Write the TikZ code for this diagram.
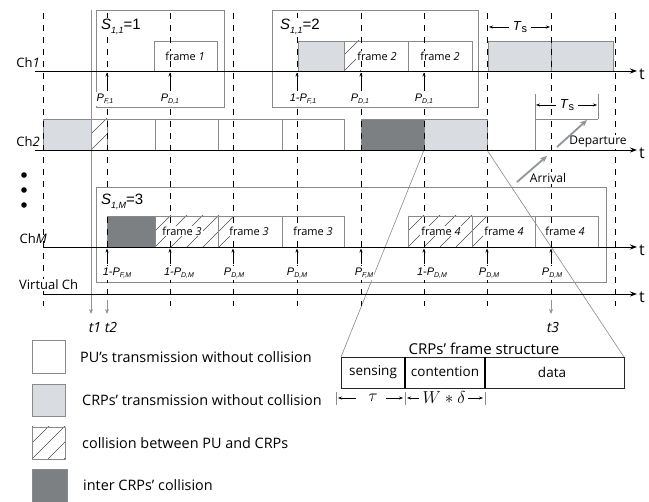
\documentclass[tikz,border=0pt]{standalone}
\usepackage{fontspec}
\setmainfont{Open Sans}
\newfontfamily\arialf{Liberation Sans}
\usetikzlibrary{arrows.meta}
\definecolor{lgrey}{HTML}{D9DCE0}
\definecolor{dgrey}{HTML}{7D8083}
\definecolor{boxline}{HTML}{8A8A8A}
\definecolor{tline}{HTML}{8F959A}
\newcommand{\fsz}[1]{\fontsize{#1}{#1}\selectfont}
\newcommand{\PP}[1]{P\raisebox{-0.45ex}{\fsz{7}#1}}
\newcommand{\plab}[1]{{\arialf\itshape\fsz{11}#1}}
\newcommand{\slab}[2]{{\arialf\fsz{15}\textit{S}\raisebox{-0.45ex}{\fsz{9}\itshape #1}=#2}}
\newcommand{\hatchbox}[4]{%
  \begin{scope}
    \clip (#1,#2) rectangle (#3,#4);
    \foreach \k in {-48,-32,...,96} \draw[hatchline] ({#1+\k},#4) -- ++(48,-48);
  \end{scope}}
\begin{document}
\begin{tikzpicture}[x=1pt,y=-1pt,
  dashline/.style={draw=black,line width=0.7pt,dash pattern=on 6pt off 6pt},
  sbox/.style={draw=boxline,line width=0.8pt},
  fbox/.style={draw=boxline,line width=0.8pt},
  axis/.style={line width=0.9pt,-{Stealth[length=7pt,width=5pt]}},
  uparr/.style={line width=0.7pt,-{Stealth[length=4pt,width=3pt]}},
  garr/.style={draw=tline,line width=1.8pt,-{Stealth[length=7pt,width=6pt]}},
  tarr/.style={draw=tline,line width=0.8pt,-{Stealth[length=5pt,width=4pt]}},
  hatchline/.style={draw=black!70,line width=0.5pt},
  thin/.style={draw=boxline,line width=0.6pt},
  lbl/.style={inner sep=0pt},
  plb/.style={inner sep=1pt,fill=white},
  frm/.style={inner sep=1.2pt,fill=white,font=\fsz{11}},
  tlab/.style={inner sep=0pt,font=\fsz{16}},
  leg/.style={inner sep=0pt,anchor=west,font=\fsz{14.4}}]
\useasboundingbox (0,0) rectangle (649,502);

% ---------- S boxes ----------
\draw[sbox] (96,10) rectangle (224,107);
\draw[sbox] (272,10) rectangle (478,107);
\draw[sbox] (96,187) rectangle (606,282);

% ---------- Ch1 blocks ----------
\draw[fbox] (154,41) rectangle (217,71);
\filldraw[fbox,fill=lgrey] (298,41) rectangle (344,71);
\hatchbox{344}{41}{361}{71}
\draw[fbox] (344,41) rectangle (408,71);
\draw[fbox] (408,41) rectangle (472,71);
\filldraw[fbox,fill=lgrey] (488,41) rectangle (551,71);
\filldraw[fbox,fill=lgrey] (551,41) rectangle (613,71);

% ---------- Ch2 blocks ----------
\filldraw[fbox,fill=lgrey] (43,119) rectangle (91,150);
\hatchbox{91}{119}{107}{150}
\draw[fbox] (91,119) rectangle (107,150);
\draw[fbox] (107,119) rectangle (155,150);
\draw[fbox] (155,119) rectangle (218,150);
\draw[fbox] (218,119) rectangle (282,150);
\draw[fbox] (282,119) rectangle (344,150);
\filldraw[fbox,fill=dgrey] (361,119) rectangle (424,150);
\filldraw[fbox,fill=lgrey] (424,119) rectangle (487,150);
% Ts bracket on Ch2
\draw[thin] (535,94) -- (535,150);
\draw[thin] (598,94) -- (598,119);
\draw[thin] (535,119) -- (598,119);

% dots
\foreach \yy in {175,190,205} \fill (24,\yy) circle (2.8);

% ---------- ChM blocks ----------
\filldraw[fbox,fill=dgrey] (107,216) rectangle (155,247);
\hatchbox{155}{216}{233}{247}
\draw[fbox] (155,216) rectangle (218,247);
\draw[fbox] (218,216) rectangle (282,247);
\draw[fbox] (282,216) rectangle (344,247);
\hatchbox{408}{216}{487}{247}
\draw[fbox] (408,216) rectangle (472,247);
\draw[fbox] (472,216) rectangle (535,247);
\draw[fbox] (535,216) rectangle (598,247);

% ---------- zoom lines & frame structure ----------
\coordinate (z0) at (424,150); \coordinate (z1) at (487,150);
\draw[draw=boxline,line width=0.6pt] (z0) -- (341,357);
\draw[draw=boxline,line width=0.6pt] (z1) -- (624,357);
\draw[line width=0.9pt,draw=black!85] (341,357) rectangle (624,388);
\draw[line width=1.3pt] (405,357) -- (405,388);
\draw[line width=1.3pt] (485,357) -- (485,388);
\node[lbl,font=\fsz{15}] (crpfs) at (484,349) {CRPs’ frame structure};
\node[lbl,font=\fsz{13.5}] (sens) at (373,372) {sensing};
\node[lbl,font=\fsz{13.5}] (cont) at (445,372) {contention};
\node[lbl,font=\fsz{13.5}] (data) at (552,372) {data};
\draw[thin] (336,392) -- (336,405);
\draw[thin] (405,392) -- (405,405);
\draw[thin] (485,392) -- (485,405);
\node[lbl,font=\fsz{17}] (tau) at (373,398) {$\tau$};
\node[lbl,font=\fsz{17}] (wd) at (444,398) {$W*\delta$};
\draw[line width=0.6pt,-{Stealth[length=4pt,width=3pt]}] (356,398) -- (338,398);
\draw[line width=0.6pt,-{Stealth[length=4pt,width=3pt]}] (386,398) -- (403,398);
\draw[line width=0.6pt,-{Stealth[length=4pt,width=3pt]}] (419,398) -- (407,398);
\draw[line width=0.6pt,-{Stealth[length=4pt,width=3pt]}] (468,398) -- (483,398);

% ---------- vertical dashed lines ----------
\foreach \xx in {43,170,233,297,361,424,487,615} \draw[dashline] (\xx,13) -- (\xx,306);
\draw[dashline] (107,13) -- (107,300);
\draw[dashline] (551,13) -- (551,300);
\draw[draw=tline,line width=0.7pt,dash pattern=on 6pt off 6pt] (107,300) -- (107,306);
\draw[tarr] (107,306) -- (107,314);
\draw[draw=tline,line width=0.7pt,dash pattern=on 6pt off 6pt] (551,300) -- (551,306);
\draw[tarr] (551,306) -- (551,314);
% t1 line
\draw[tarr,line width=1pt] (91,10) -- (91,314);
\node[lbl,font=\fsz{14}\itshape] (t1) at (95,328) {t1};
\node[lbl,font=\fsz{14}\itshape] (t2) at (111,328) {t2};
\node[lbl,font=\fsz{14}\itshape] (t3) at (553,328) {t3};

% ---------- labels over the dashed lines ----------
\node[plb,anchor=west] (s11a) at (100,27) {\slab{1,1}{1}};
\node[plb,anchor=west] (s11b) at (279,27) {\slab{1,1}{2}};
\node[plb,anchor=west] (s1m) at (100,202) {\slab{1,M}{3}};
\node[frm] (f1) at (185,56) {frame \textit{1}};
\node[frm] (f2a) at (377,56) {frame \textit{2}};
\node[frm] (f2b) at (440,56) {frame \textit{2}};
\node[frm] (f3a) at (182,231) {frame \textit{3}};
\node[frm] (f3b) at (249,231) {frame \textit{3}};
\node[frm] (f3c) at (313,231) {frame \textit{3}};
\node[frm] (f4a) at (441,231) {frame \textit{4}};
\node[frm] (f4b) at (504,231) {frame \textit{4}};
\node[frm] (f4c) at (565,231) {frame \textit{4}};

% Ts top
\node[lbl] (ts1) at (520,27) {{\arialf\fsz{13}\textit{T}\raisebox{-0.2ex}{\fsz{11}s}}};
\coordinate (ts1l) at (489,27); \coordinate (ts1r) at (550,27);
\draw[line width=0.7pt,-{Stealth[length=4pt,width=3pt]}] (ts1.west) ++(-4,0) -- (ts1l);
\draw[line width=0.7pt,-{Stealth[length=4pt,width=3pt]}] (ts1.east) ++(4,0) -- (ts1r);
% Ts on Ch2
\node[plb] (ts2) at (567,105) {{\arialf\fsz{13}\textit{T}\raisebox{-0.2ex}{\fsz{11}s}}};
\coordinate (ts2l) at (536,105); \coordinate (ts2r) at (597,105);
\draw[line width=0.7pt,-{Stealth[length=4pt,width=3pt]}] (ts2.west) ++(-3,0) -- (ts2l);
\draw[line width=0.7pt,-{Stealth[length=4pt,width=3pt]}] (ts2.east) ++(3,0) -- (ts2r);
% departure / arrival
\node[plb,font=\fsz{12}] (dep) at (598,142) {Departure};
\node[plb,font=\fsz{12}] (arr) at (548,178) {Arrival};
\coordinate (dep0) at (557,147); \coordinate (dep1) at (587,120);
\coordinate (arr0) at (517,182); \coordinate (arr1) at (547,156);
\draw[garr] (dep0) -- (dep1);
\draw[garr] (arr0) -- (arr1);

% ---------- axes ----------
\draw[axis] (35,71) -- (637,71);
\draw[axis] (35,150) -- (637,150);
\draw[axis] (43,247) -- (637,247);
\draw[axis] (43,294) -- (637,294);
\node[tlab] (ta) at (642,74) {t};
\node[tlab] (tb) at (642,153) {t};
\node[tlab] (tc) at (642,250) {t};
\node[tlab] (td) at (642,297) {t};
\node[lbl,anchor=base east,font=\fsz{13}] (ch1) at (40,68) {Ch\textit{1}};
\node[lbl,anchor=base east,font=\fsz{13}] (ch2) at (40,147) {Ch\textit{2}};
\node[lbl,anchor=base east,font=\fsz{13}] (chm) at (47,244) {Ch\textit{M}};
\node[plb,anchor=base west,font=\fsz{13}] (vch) at (18,290) {Virtual Ch};

% ---------- probability arrows ----------
\foreach \xx in {107,170,297,361,424} \draw[uparr] (\xx,90) -- (\xx,72.5);
\foreach \xx in {107,170,233,297,361,424,487,551} \draw[uparr] (\xx,264) -- (\xx,248.5);
\node[plb] (p1) at (105,99) {\plab{\PP{F,1}}};
\node[plb] (p2) at (170,99) {\plab{\PP{D,1}}};
\node[plb] (p3) at (303,99) {\plab{1-\PP{F,1}}};
\node[plb] (p4) at (360,99) {\plab{\PP{D,1}}};
\node[plb] (p5) at (424,99) {\plab{\PP{D,1}}};
\node[plb] (q1) at (117,273) {\plab{1-\PP{F,M}}};
\node[plb] (q2) at (179,273) {\plab{1-\PP{D,M}}};
\node[plb] (q3) at (234,273) {\plab{\PP{D,M}}};
\node[plb] (q4) at (297,273) {\plab{\PP{D,M}}};
\node[plb] (q5) at (364,273) {\plab{\PP{F,M}}};
\node[plb] (q6) at (432,273) {\plab{1-\PP{D,M}}};
\node[plb] (q7) at (489,273) {\plab{\PP{D,M}}};
\node[plb] (q8) at (552,273) {\plab{\PP{D,M}}};

% ---------- legend ----------
\draw[fbox] (32,340) rectangle (65,373);
\filldraw[fbox,fill=lgrey] (32,384) rectangle (65,416);
\hatchbox{32}{427}{65}{459}
\draw[fbox] (32,427) rectangle (65,459);
\filldraw[fbox,fill=dgrey] (32,469) rectangle (67,502);
\node[leg] (l1) at (80,357) {PU’s transmission without collision};
\node[leg] (l2) at (82,400) {CRPs’ transmission without collision};
\node[leg] (l3) at (82,443) {collision between PU and CRPs};
\node[leg] (l4) at (83,485) {inter CRPs’ collision};
\end{tikzpicture}
\end{document}
